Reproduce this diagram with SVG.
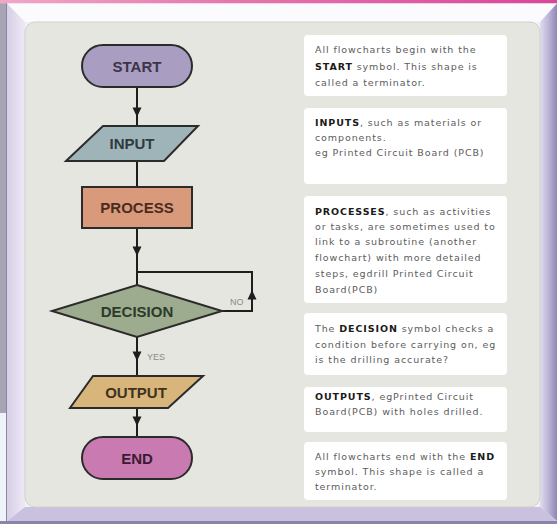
<svg xmlns="http://www.w3.org/2000/svg" width="557" height="524" viewBox="0 0 557 524">
  <defs>
    <linearGradient id="topBar" x1="0" y1="0" x2="1" y2="0">
      <stop offset="0" stop-color="#f0a8c6"/>
      <stop offset="0.4" stop-color="#e678ae"/>
      <stop offset="1" stop-color="#d8479a"/>
    </linearGradient>
    <linearGradient id="rightBevel" x1="0" y1="0" x2="1" y2="0">
      <stop offset="0" stop-color="#e2dcf0"/>
      <stop offset="0.5" stop-color="#bdb4d8"/>
      <stop offset="1" stop-color="#8f87b6"/>
    </linearGradient>
    <linearGradient id="leftBevel" x1="0" y1="0" x2="1" y2="0">
      <stop offset="0" stop-color="#d6cfe6"/>
      <stop offset="1" stop-color="#eee9f6"/>
    </linearGradient>
    <!-- arrowhead pointing down, tip at the origin -->
    <path id="ah" d="M-4.5,-9.5 L4.5,-9.5 L0,0 Z"/>
    <style>
      .shape { stroke: #2b2b2b; stroke-width: 2; }
      .nodeText { font-family: "Liberation Sans", Arial, sans-serif; font-weight: bold; font-size: 15px; text-anchor: middle; }
      .conn { fill: none; stroke: #1e1e1e; stroke-width: 2; }
      .head { fill: #1e1e1e; }
      .lbl { font-family: "Liberation Sans", Arial, sans-serif; font-size: 9px; fill: #8a8a8a; }
      .note { fill: #ffffff; }
      .noteText { font-family: "DejaVu Sans", "Liberation Sans", sans-serif; font-size: 9.5px; fill: #5c5c5c; letter-spacing: 0.9px; }
      .noteText .b { font-weight: bold; fill: #1a1a1a; }
    </style>
  </defs>

  <!-- window chrome behind the frame -->
  <rect x="0" y="0" width="557" height="524" fill="#f3f1f8"/>
  <rect x="0" y="0" width="7" height="413" fill="#a7a4b5"/>
  <rect x="0" y="413" width="7" height="111" fill="#eef3fa"/>
  <rect x="0" y="0" width="557" height="3.5" fill="url(#topBar)"/>

  <!-- bevelled frame -->
  <polygon points="7,3.5 557,3.5 540,22 25,22" fill="#fbfafd"/>
  <polygon points="7,3.5 25,22 25,507 7,521" fill="url(#leftBevel)"/>
  <polygon points="557,3.5 557,521 540,507 540,22" fill="url(#rightBevel)"/>
  <polygon points="7,521 25,507 540,507 557,521" fill="#c9c1df"/>
  <line x1="6.5" y1="3.5" x2="6.5" y2="521" stroke="#8c88a0" stroke-width="1"/>
  <rect x="0" y="521" width="557" height="3" fill="#8a84a6"/>

  <!-- main panel -->
  <rect x="25" y="22" width="515" height="485" rx="10" fill="#e5e6e0" stroke="#d0d1c9" stroke-width="1"/>

  <!-- connectors -->
  <g id="connectors">
    <path class="conn" d="M137,87 V126"/>
    <use href="#ah" class="head" transform="translate(137,117)"/>
    <path class="conn" d="M137,161 V187"/>
    <path class="conn" d="M137,228 V285"/>
    <use href="#ah" class="head" transform="translate(137,256)"/>
    <path class="conn" d="M222,311 H252 V272 H137"/>
    <use href="#ah" class="head" transform="translate(252,290) rotate(180)"/>
    <text class="lbl" x="230" y="305">NO</text>
    <path class="conn" d="M137,337 V376"/>
    <use href="#ah" class="head" transform="translate(137,361)"/>
    <text class="lbl" x="147" y="359.5">YES</text>
    <path class="conn" d="M137,408 V437"/>
    <use href="#ah" class="head" transform="translate(137,426)"/>
  </g>

  <!-- flowchart nodes -->
  <g id="start">
    <rect class="shape" x="82" y="45" width="110" height="42" rx="21" fill="#a99dc1"/>
    <text class="nodeText" x="137" y="71.5" fill="#3a3548">START</text>
  </g>
  <g id="input">
    <polygon class="shape" points="103,126 198,126 164,161 66,161" fill="#9fb4b8"/>
    <text class="nodeText" x="132" y="149" fill="#2f3b40">INPUT</text>
  </g>
  <g id="process">
    <rect class="shape" x="82" y="187" width="110" height="41" fill="#d99a7b"/>
    <text class="nodeText" x="137" y="212.5" fill="#4a2b20">PROCESS</text>
  </g>
  <g id="decision">
    <polygon class="shape" points="137,285 222,311 137,337 52,311" fill="#9dab8f"/>
    <text class="nodeText" x="137" y="316.5" fill="#2c3a2a">DECISION</text>
  </g>
  <g id="output">
    <polygon class="shape" points="93,376 203,376 168,408 70,408" fill="#d8b67b"/>
    <text class="nodeText" x="136" y="397.5" fill="#3e3220">OUTPUT</text>
  </g>
  <g id="end">
    <rect class="shape" x="82" y="437" width="110" height="42" rx="21" fill="#c97bb1"/>
    <text class="nodeText" x="137" y="463.5" fill="#3a1a35">END</text>
  </g>

  <!-- explanatory notes -->
  <g id="note-start">
    <rect class="note" x="304" y="35" width="203" height="61" rx="4"/>
    <text class="noteText" x="315" y="53">All flowcharts begin with the</text>
    <text class="noteText" x="315" y="70"><tspan class="b">START</tspan> symbol. This shape is</text>
    <text class="noteText" x="315" y="85.5">called a terminator.</text>
  </g>
  <g id="note-input">
    <rect class="note" x="304" y="108" width="203" height="76" rx="4"/>
    <text class="noteText" x="315" y="126"><tspan class="b">INPUTS</tspan>, such as materials or</text>
    <text class="noteText" x="315" y="141">components.</text>
    <text class="noteText" x="315" y="156">eg Printed Circuit Board (PCB)</text>
  </g>
  <g id="note-process">
    <rect class="note" x="304" y="196" width="203" height="107" rx="4"/>
    <text class="noteText" x="315" y="214.5"><tspan class="b">PROCESSES</tspan>, such as activities</text>
    <text class="noteText" x="315" y="230">or tasks, are sometimes used to</text>
    <text class="noteText" x="315" y="245">link to a subroutine (another</text>
    <text class="noteText" x="315" y="261">flowchart) with more detailed</text>
    <text class="noteText" x="315" y="276.5">steps, egdrill Printed Circuit</text>
    <text class="noteText" x="315" y="292.5">Board(PCB)</text>
  </g>
  <g id="note-decision">
    <rect class="note" x="304" y="313" width="203" height="62" rx="4"/>
    <text class="noteText" x="315" y="332">The <tspan class="b">DECISION</tspan> symbol checks a</text>
    <text class="noteText" x="315" y="348">condition before carrying on, eg</text>
    <text class="noteText" x="315" y="363">is the drilling accurate?</text>
  </g>
  <g id="note-output">
    <rect class="note" x="304" y="387" width="203" height="45" rx="4"/>
    <text class="noteText" x="315" y="400"><tspan class="b">OUTPUTS</tspan>, egPrinted Circuit</text>
    <text class="noteText" x="315" y="415">Board(PCB) with holes drilled.</text>
  </g>
  <g id="note-end">
    <rect class="note" x="304" y="442" width="203" height="58" rx="4"/>
    <text class="noteText" x="315" y="459.5">All flowcharts end with the <tspan class="b">END</tspan></text>
    <text class="noteText" x="315" y="475">symbol. This shape is called a</text>
    <text class="noteText" x="315" y="490">terminator.</text>
  </g>
</svg>
